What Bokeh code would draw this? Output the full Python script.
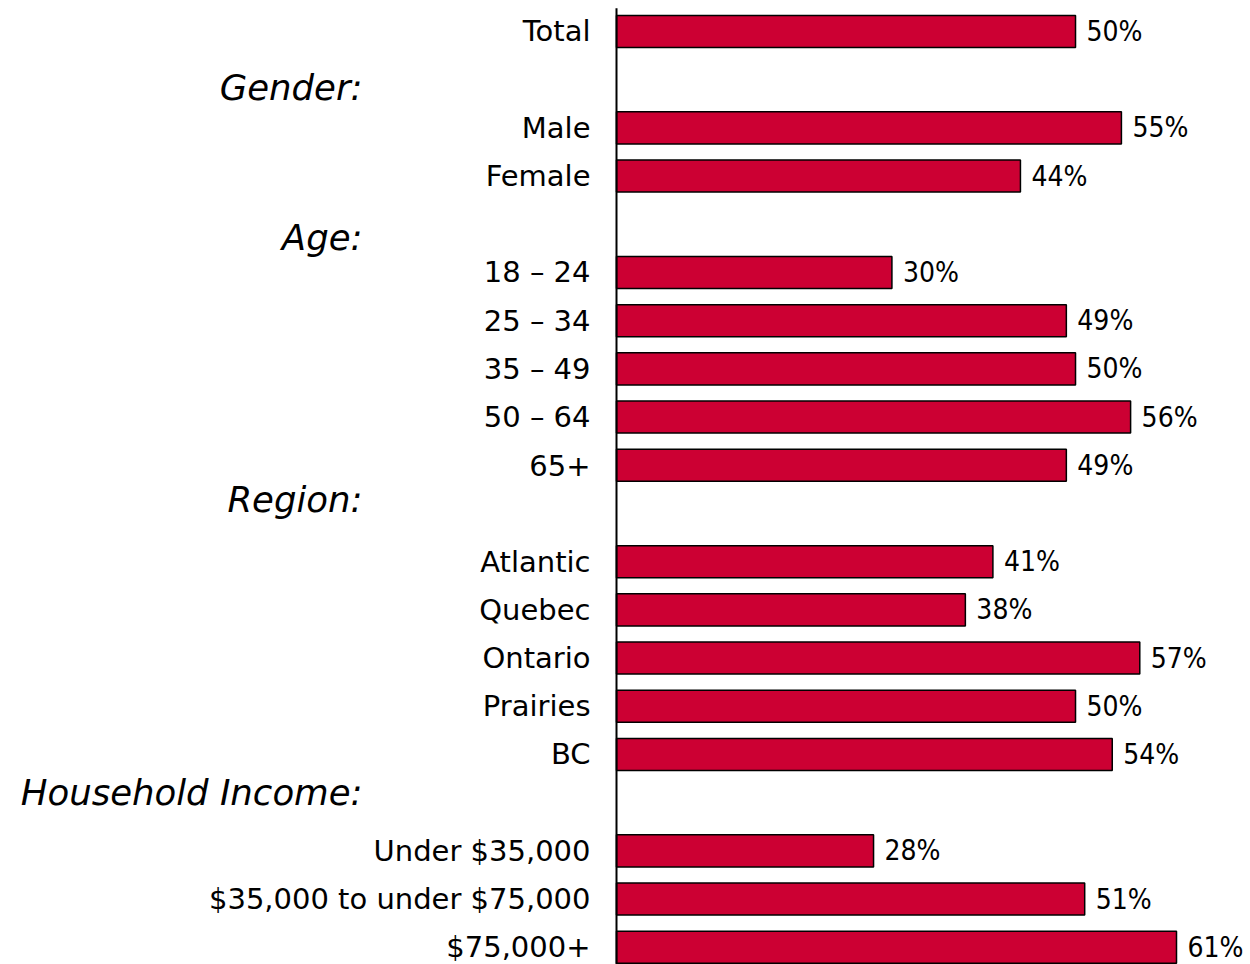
from bokeh.plotting import figure
from bokeh.models import Range1d, ColumnDataSource
from bokeh.core.properties import value
from bokeh.embed import file_html
from bokeh.resources import INLINE

# ---- data ----
categories = ["Total", "Male", "Female", "18 \u2013 24", "25 \u2013 34", "35 \u2013 49",
              "50 \u2013 64", "65+", "Atlantic", "Quebec", "Ontario", "Prairies", "BC",
              "Under $35,000", "$35,000 to under $75,000", "$75,000+"]
values = [50, 55, 44, 30, 49, 50, 56, 49, 41, 38, 57, 50, 54, 28, 51, 61]
groups = ["Gender:", "Age:", "Region:", "Household Income:"]

# ---- layout: row slots (one slot per line, headers occupy a slot) ----
row_slots = [0, 2, 3, 5, 6, 7, 8, 9, 11, 12, 13, 14, 15, 17, 18, 19]
group_slots = [1.16, 4.27, 9.71, 15.79]

W, H = 1250, 964
p = figure(width=W, height=H, output_backend="svg", toolbar_location=None,
           x_range=Range1d(-67.10, 69.06), y_range=Range1d(19.357, -0.643),
           min_border=0, min_border_left=0, min_border_right=0,
           min_border_top=0, min_border_bottom=0)
p.axis.visible = False
p.grid.visible = False
p.outline_line_color = None
p.background_fill_color = "white"
p.border_fill_color = "white"

src = ColumnDataSource(dict(y=row_slots, v=values, cat=categories,
                            lab=[f"{v}%" for v in values]))

p.hbar(y="y", left=0, right="v", height=0.665, source=src,
       fill_color="#CC0033", line_color="black", line_width=1.5)

# vertical category axis line
p.segment(x0=[0], y0=[-0.48], x1=[0], y1=[19.357], line_color="black", line_width=2)

p.text(x=-2.83, y="y", text="cat", source=src, text_align="right",
       text_baseline="middle", text_font=value("DejaVu Sans"),
       text_font_size="29px", text_color="black")

p.text(x="v", y="y", text="lab", source=src, x_offset=11, text_align="left",
       text_baseline="middle", text_font=value("DejaVu Sans Condensed"),
       text_font_size="28px", text_color="black")

gsrc = ColumnDataSource(dict(y=group_slots, g=groups))
p.text(x=-27.67, y="y", text="g", source=gsrc, text_align="right",
       text_baseline="middle", text_font=value("DejaVu Sans"),
       text_font_style="italic", text_font_size="35.5px", text_color="black")

open("out.html", "w").write(file_html(p, INLINE))
